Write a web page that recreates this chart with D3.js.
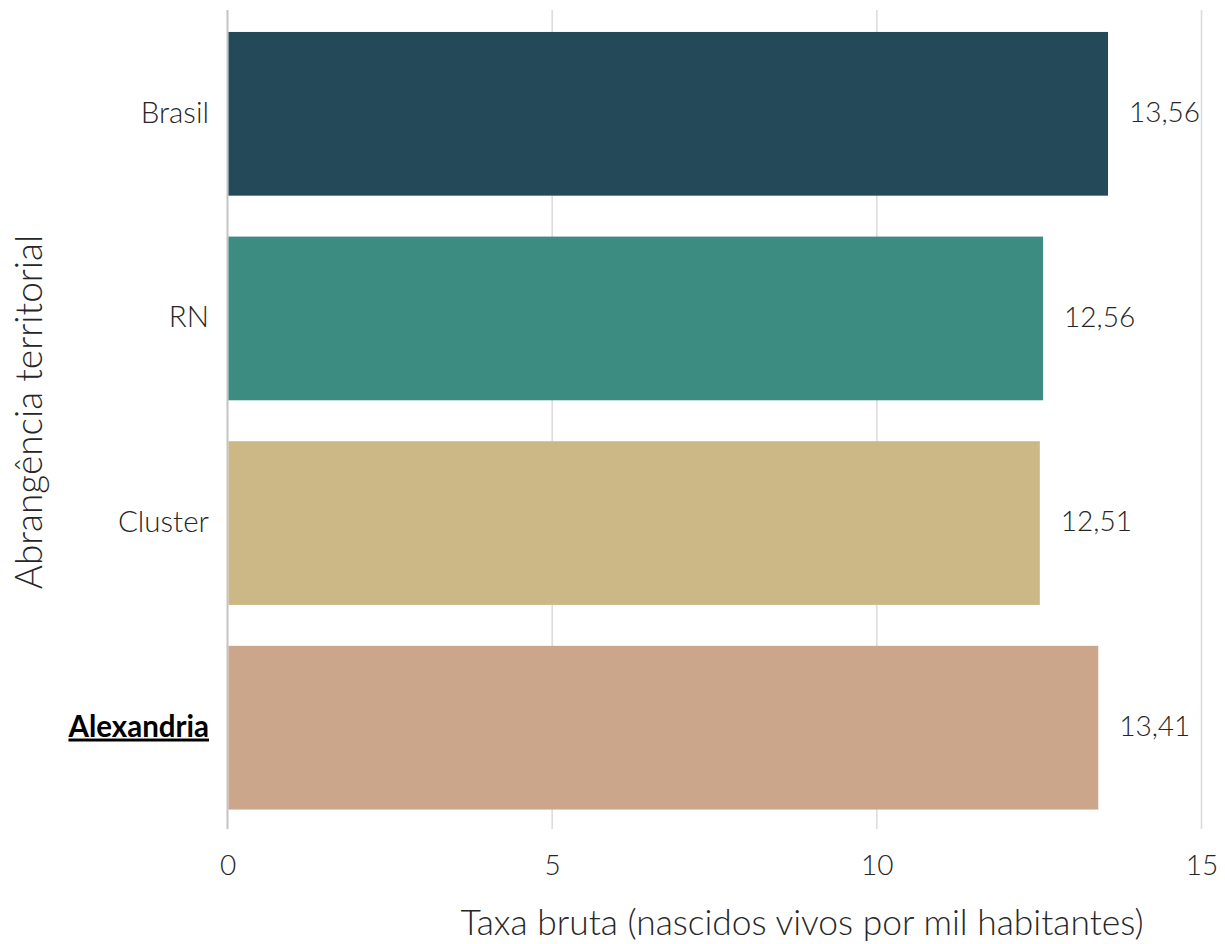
<!DOCTYPE html>
<html>
<head>
<meta charset="utf-8">
<script src="https://cdn.jsdelivr.net/npm/d3@7"></script>
<style>
  html, body { margin: 0; padding: 0; background: #fff; }
  svg { display: block; }
</style>
</head>
<body>
<svg id="chart" width="1225" height="944"></svg>
<script>
const categories = ["Brasil", "RN", "Cluster", "Alexandria"];
const values = [13.56, 12.56, 12.51, 13.41];
const valueLabels = ["13,56", "12,56", "12,51", "13,41"];
const barColors = ["#244a5a", "#3d8c82", "#ccb886", "#cca68a"];
const xTicks = [0, 5, 10, 15];
const highlight = "Alexandria";
const xTitle = "Taxa bruta (nascidos vivos por mil habitantes)";
const yTitle = "Abrangência territorial";

const LIGHT = "'Lato Light', Lato, sans-serif";
const BOLD = "Lato, sans-serif";

const svg = d3.select("#chart");
const x = d3.scaleLinear().domain([0, 15]).range([227.5, 1201.5]);
const y = d3.scaleBand().domain(categories).range([11.5, 830]).paddingInner(0.2).paddingOuter(0.1);

// grid lines
svg.append("g").selectAll("line").data(xTicks).join("line")
  .attr("x1", d => x(d)).attr("x2", d => x(d))
  .attr("y1", 10).attr("y2", 829)
  .attr("stroke", d => d === 0 ? "#c4c4c4" : "#dcdcdc")
  .attr("stroke-width", d => d === 0 ? 2 : 1.6);

// bars
const data = categories.map((c, i) => ({ c, v: values[i], lab: valueLabels[i], col: barColors[i] }));
svg.append("g").selectAll("rect").data(data).join("rect")
  .attr("x", x(0) + 1)
  .attr("y", d => y(d.c))
  .attr("width", d => x(d.v) - x(0) - 1)
  .attr("height", y.bandwidth())
  .attr("fill", d => d.col);

// value labels
svg.append("g").selectAll("text").data(data).join("text")
  .attr("x", d => x(d.v) + 21)
  .attr("y", d => y(d.c) + y.bandwidth() / 2)
  .attr("dy", "0.3em")
  .style("font-family", LIGHT)
  .style("font-weight", 300)
  .style("font-size", "28px")
  .attr("fill", "#262626")
  .text(d => d.lab);

// x axis tick labels
const xAxis = d3.axisBottom(x).tickValues(xTicks).tickSize(0).tickPadding(0).tickFormat(d3.format("d"));
const gx = svg.append("g").attr("transform", "translate(0,855)").call(xAxis);
gx.select(".domain").remove();
gx.selectAll("text")
  .style("font-family", LIGHT).style("font-weight", 300).style("font-size", "28px")
  .attr("fill", "#262626").attr("dy", "0.71em").attr("y", 0);

// y axis category labels
const yAxis = d3.axisLeft(y).tickSize(0).tickPadding(0);
const gy = svg.append("g").attr("transform", "translate(209,0)").call(yAxis);
gy.select(".domain").remove();
gy.selectAll("text")
  .style("font-size", d => d === highlight ? "29.5px" : "29.5px")
  .style("font-family", d => d === highlight ? BOLD : LIGHT)
  .style("font-weight", d => d === highlight ? 700 : 300)
  .attr("fill", d => d === highlight ? "#000" : "#262626")
  .style("text-decoration", d => d === highlight ? "underline" : null)
  .attr("dy", "0.3em");

// axis titles
svg.append("text")
  .attr("x", 802).attr("y", 935)
  .attr("text-anchor", "middle")
  .style("font-family", LIGHT).style("font-weight", 300).style("font-size", "35.4px")
  .attr("fill", "#262626")
  .text(xTitle);

svg.append("text")
  .attr("transform", `translate(42,412) rotate(-90)`)
  .attr("text-anchor", "middle")
  .style("font-family", LIGHT).style("font-weight", 300).style("font-size", "37px")
  .attr("fill", "#262626")
  .text(yTitle);
</script>
</body>
</html>
